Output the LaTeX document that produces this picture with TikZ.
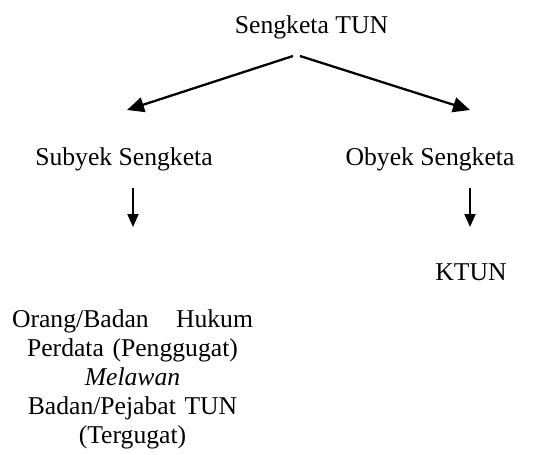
\documentclass[tikz,border=0pt]{standalone}
\usepackage{fontspec}
\setmainfont{Liberation Serif}
\usetikzlibrary{arrows.meta, positioning}

\begin{document}
\begin{tikzpicture}[
    x=0.02cm, y=-0.02cm,
    font=\fontsize{14.6}{16.5}\selectfont,
    word/.style={inner sep=0pt, anchor=base},
    link/.style={-{Triangle[length=0.34cm, width=0.3cm]}, line width=1.3pt},
    drop/.style={-{Triangle[length=0.26cm, width=0.22cm]}, line width=1.1pt},
  ]

  \useasboundingbox (0,0) rectangle (534,454);

  % ---- the dispute and its two sides ------------------------------------
  \node[word] (sengketa) at (311.5,33)  {Sengketa TUN};
  \node[word] (subyek)   at (124,165)   {Subyek Sengketa};
  \node[word] (obyek)    at (430,165)   {Obyek Sengketa};

  % ---- what each side stands for ------------------------------------------
  \node[word] (ktun)     at (471,280)   {KTUN};
  \node[inner sep=0pt, anchor=north, text width=4.82cm, align=center]
       (pihak) at (132.5,309)
       {Orang/Badan\hfill Hukum\\ Perdata (Penggugat)\\ \textit{Melawan}\\
        Badan/Pejabat TUN\\ (Tergugat)};

  % ---- arrow ends ---------------------------------------------------------
  \coordinate (forkL) at (293,56);
  \coordinate (forkR) at (300,56);
  \coordinate (tipL)  at (127,110);
  \coordinate (tipR)  at (470,110);
  \coordinate (dropL) at (133,188);
  \coordinate (endL)  at (133,227);
  \coordinate (dropR) at (470,188);
  \coordinate (endR)  at (470,227);

  \draw[link] (forkL) -- (tipL);
  \draw[link] (forkR) -- (tipR);
  \draw[drop] (dropL) -- (endL);
  \draw[drop] (dropR) -- (endR);

\end{tikzpicture}
\end{document}
